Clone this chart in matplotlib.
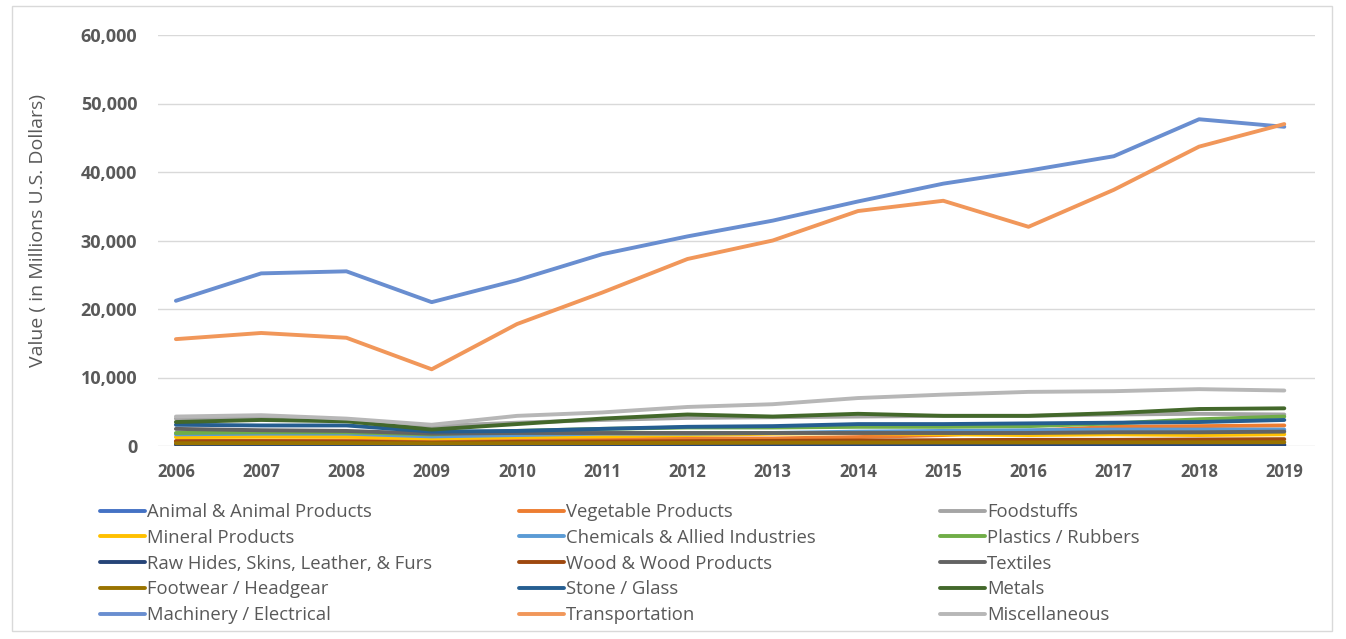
import matplotlib
matplotlib.use("Agg")
from matplotlib import pyplot as plt
from matplotlib.patches import Rectangle
from matplotlib.ticker import FuncFormatter

plt.rcParams['font.family'] = ['Open Sans', 'DejaVu Sans']

years = list(range(2006, 2020))

# values in millions of US dollars
animal = [300, 300, 280, 250, 280, 300, 320, 320, 330, 300, 280, 250, 200, 150]
vegetable = [700, 750, 800, 700, 850, 950, 1100, 1100, 1300, 1600, 2200, 2800, 2900, 3000]
foodstuffs = [4000, 4200, 3800, 2900, 3400, 3800, 4100, 4200, 4300, 4400, 4400, 4600, 4700, 4600]
mineral = [1300, 1350, 1350, 1100, 1300, 1400, 1600, 1800, 1900, 1700, 1600, 1700, 1600, 1700]
chemicals = [1700, 1800, 1800, 1400, 1600, 1800, 1800, 1900, 2100, 2200, 2300, 2400, 2400, 2400]
plastics = [1900, 2000, 2000, 1700, 2200, 2500, 2700, 2700, 2800, 2800, 2900, 3300, 3900, 4300]
raw_hides = [200, 200, 180, 150, 170, 180, 190, 200, 200, 190, 180, 170, 160, 150]
wood = [700, 700, 650, 500, 600, 650, 700, 750, 800, 850, 900, 900, 950, 1000]
textiles = [2500, 2300, 2200, 1800, 1900, 1900, 1900, 1900, 1900, 1900, 1900, 2000, 2000, 2100]
footwear = [400, 420, 420, 380, 400, 420, 450, 480, 500, 520, 520, 530, 540, 550]
stone_glass = [3100, 3000, 3000, 2100, 2200, 2500, 2800, 2900, 3200, 3200, 3300, 3400, 3500, 3800]
metals = [3500, 3800, 3600, 2400, 3200, 4000, 4600, 4300, 4700, 4400, 4400, 4800, 5400, 5500]
machinery = [21200, 25200, 25500, 21000, 24200, 28000, 30600, 32900, 35700, 38300, 40200, 42300, 47700, 46600]
transportation = [15600, 16500, 15800, 11200, 17800, 22400, 27300, 30000, 34300, 35800, 32000, 37400, 43700, 47000]
miscellaneous = [4300, 4500, 4000, 3100, 4400, 4900, 5700, 6100, 7000, 7500, 7900, 8000, 8300, 8100]

names = ['Animal & Animal Products', 'Vegetable Products', 'Foodstuffs',
         'Mineral Products', 'Chemicals & Allied Industries', 'Plastics / Rubbers',
         'Raw Hides, Skins, Leather, & Furs', 'Wood & Wood Products', 'Textiles',
         'Footwear / Headgear', 'Stone / Glass', 'Metals',
         'Machinery / Electrical', 'Transportation', 'Miscellaneous']
series = [animal, vegetable, foodstuffs, mineral, chemicals, plastics, raw_hides,
          wood, textiles, footwear, stone_glass, metals, machinery,
          transportation, miscellaneous]
colors = ['#4472C4', '#ED7D31', '#A5A5A5', '#FFC000', '#5B9BD5', '#70AD47',
          '#264478', '#9E480E', '#636363', '#997300', '#255E91', '#43682B',
          '#698ED0', '#F1975A', '#B7B7B7']

fig = plt.figure(figsize=(13.46, 6.39), dpi=100)
fig.patches.append(Rectangle((12 / 1346, 8 / 639), 1320 / 1346, 625 / 639,
                             transform=fig.transFigure, fill=False,
                             edgecolor='#D9D9D9', linewidth=1))
ax = fig.add_axes([158 / 1346, 1 - 446 / 639, 1157 / 1346, 411 / 639])

handles = []
for name, vals, c in zip(names, series, colors):
    h, = ax.plot(years, vals, color=c, linewidth=2.8, label=name,
                 solid_capstyle='round', solid_joinstyle='round')
    handles.append(h)

ax.set_xlim(2005.79, 2019.36)
ax.set_ylim(0, 60000)
ax.set_yticks(range(0, 60001, 10000))
ax.set_xticks(years)
ax.yaxis.set_major_formatter(FuncFormatter(lambda v, p: f'{int(v):,}'))
ax.grid(axis='y', color='#D9D9D9', linewidth=1)
ax.set_axisbelow(True)
for s in ax.spines.values():
    s.set_visible(False)
ax.tick_params(length=0, labelsize=12, labelcolor='#595959')
ax.tick_params(axis='y', labelsize=13, pad=15)
ax.tick_params(axis='x', pad=12)
for lbl in ax.get_xticklabels() + ax.get_yticklabels():
    lbl.set_fontweight('bold')
ax.set_ylabel('Value ( in Millions U.S. Dollars)', fontsize=14,
              color='#595959', labelpad=24, y=0.525)

# Excel lays the legend out in three fixed-width columns
col_x = [100, 519, 940]
for k in range(3):
    idx = [k, k + 3, k + 6, k + 9, k + 12]
    fig.legend([handles[i] for i in idx], [names[i] for i in idx],
               loc='upper left', bbox_to_anchor=(col_x[k] / 1346, 1 - 503 / 639),
               frameon=False, fontsize=13.3, labelcolor='#595959',
               handlelength=2.45, handletextpad=0.1, labelspacing=0.42,
               borderaxespad=0, borderpad=0)

fig.savefig('out.png', dpi=100)
